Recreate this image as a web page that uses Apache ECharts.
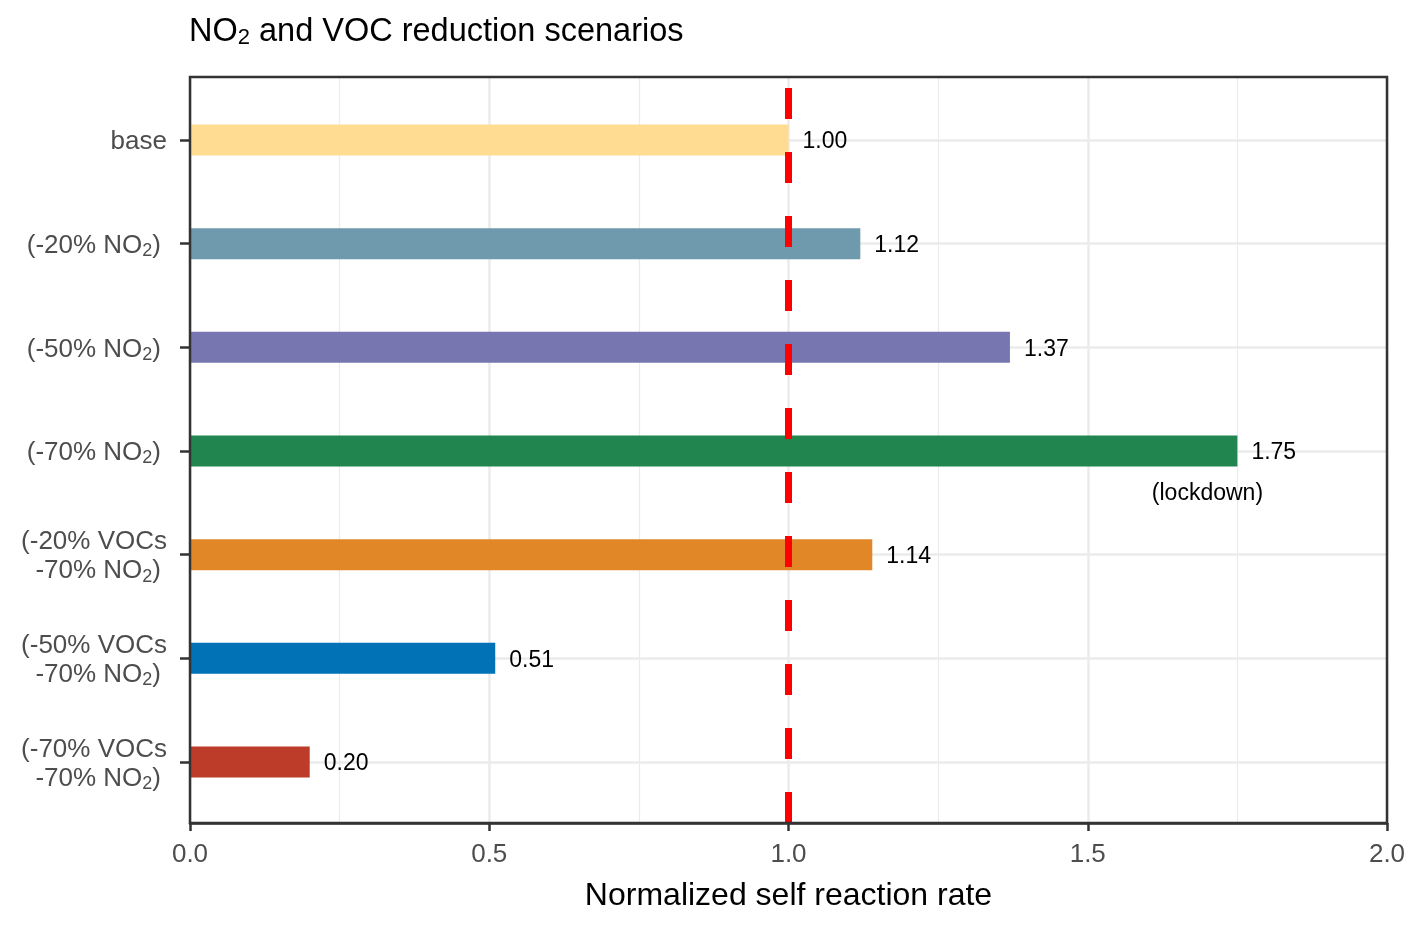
<!DOCTYPE html>
<html>
<head>
<meta charset="utf-8">
<script src="https://cdn.jsdelivr.net/npm/echarts@6/dist/echarts.min.js"></script>
<style>html,body{margin:0;padding:0;background:#fff;}#c{width:1424px;height:926px;}</style>
</head>
<body>
<div id="c"></div>
<script>
const categories = ['base','(-20% NO2)','(-50% NO2)','(-70% NO2)','(-20% VOCs\n-70% NO2)','(-50% VOCs\n-70% NO2)','(-70% VOCs\n-70% NO2)'];
const values = [1.00, 1.12, 1.37, 1.75, 1.14, 0.51, 0.20];
const colors = ['#FFDC91','#6F99AD','#7876B1','#20854E','#E18727','#0072B5','#BC3C29'];
const xTicks = [0, 0.5, 1.0, 1.5, 2.0];
const refLine = [[1, 7.6], [1, 0.4]];
const annotation = [[1.70, 4.42, '(lockdown)']];

const FONT = 'Liberation Sans, Arial, sans-serif';
const chart = echarts.init(document.getElementById('c'));
const L = 190, R = 1424 - 1387, T = 77, B = 926 - 823;

function fmtLabel(s) {
  return s.split('\n').map(line => line.replace('NO2)', 'NO{sub|2}{p|)}')).join('\n');
}

chart.setOption({
  animation: false,
  title: {
    text: 'NO{sub|2} and VOC reduction scenarios',
    left: 184, top: 11,
    textStyle: {
      fontFamily: FONT, fontSize: 32.5, fontWeight: 'normal', color: '#000',
      rich: { sub: { fontFamily: FONT, fontSize: 22, verticalAlign: 'bottom', lineHeight: 24, color: '#000' } }
    }
  },
  grid: [
    { left: L, right: R, top: T, bottom: B, show: true, borderColor: '#333333', borderWidth: 2.5, backgroundColor: 'transparent', z: 10 },
    { left: L, right: R, top: 140, bottom: 926 - 762 }
  ],
  xAxis: [
    {
      gridIndex: 0, type: 'value', min: xTicks[0], max: xTicks[xTicks.length - 1], interval: 0.5,
      name: 'Normalized self reaction rate', nameLocation: 'middle', nameGap: 57,
      nameTextStyle: { fontFamily: FONT, fontSize: 32, color: '#000' },
      axisLine: { show: true, lineStyle: { color: '#333333', width: 2.5 } },
      axisTick: { show: true, length: 8, lineStyle: { color: '#333333', width: 2.5 } },
      axisLabel: { fontFamily: FONT, fontSize: 26, color: '#4d4d4d', margin: 19, formatter: v => v.toFixed(1) },
      splitLine: { show: true, lineStyle: { color: '#ebebeb', width: 2.5 } },
      minorTick: { show: false, splitNumber: 2 },
      minorSplitLine: { show: true, lineStyle: { color: '#ebebeb', width: 1.2 } }
    },
    { gridIndex: 1, type: 'value', min: 0, max: 2, show: false }
  ],
  yAxis: [
    { gridIndex: 0, type: 'value', min: 0.4, max: 7.6, inverse: true, show: false },
    {
      gridIndex: 1, type: 'category', data: categories, inverse: true, boundaryGap: false,
      axisLine: { show: false },
      axisTick: { show: true, length: 10, lineStyle: { color: '#333333', width: 2.5 } },
      splitLine: { show: true, lineStyle: { color: '#ebebeb', width: 2.5 } },
      axisLabel: {
        fontFamily: FONT, fontSize: 26, color: '#4d4d4d', margin: 23, lineHeight: 29, align: 'right',
        padding: [4, 0, 0, 0],
        formatter: fmtLabel,
        rich: {
          sub: { fontFamily: FONT, fontSize: 18, color: '#4d4d4d', verticalAlign: 'bottom', lineHeight: 20 },
          p: { fontFamily: FONT, fontSize: 26, color: '#4d4d4d', lineHeight: 29, padding: [0, 6, 0, 0] }
        }
      }
    }
  ],
  series: [
    {
      type: 'bar', xAxisIndex: 1, yAxisIndex: 1, barWidth: 31, z: 3,
      data: values.map((v, i) => ({ value: v, itemStyle: { color: colors[i] } })),
      label: { show: true, position: 'right', distance: 14, offset: [0, 2], fontFamily: FONT, fontSize: 23, color: '#000', formatter: p => p.value.toFixed(2) }
    },
    {
      type: 'line', xAxisIndex: 0, yAxisIndex: 0, data: refLine, symbol: 'none', z: 5,
      lineStyle: { color: '#ff0000', width: 7, type: [31, 33] }
    },
    {
      type: 'custom', xAxisIndex: 0, yAxisIndex: 0, z: 6, silent: true,
      data: annotation,
      renderItem: function (params, api) {
        const pt = api.coord([api.value(0), api.value(1)]);
        return {
          type: 'text',
          style: {
            x: pt[0], y: pt[1], text: annotation[params.dataIndex][2],
            fill: '#000', font: '23px ' + FONT, align: 'center', verticalAlign: 'middle'
          }
        };
      }
    }
  ]
});
</script>
</body>
</html>
